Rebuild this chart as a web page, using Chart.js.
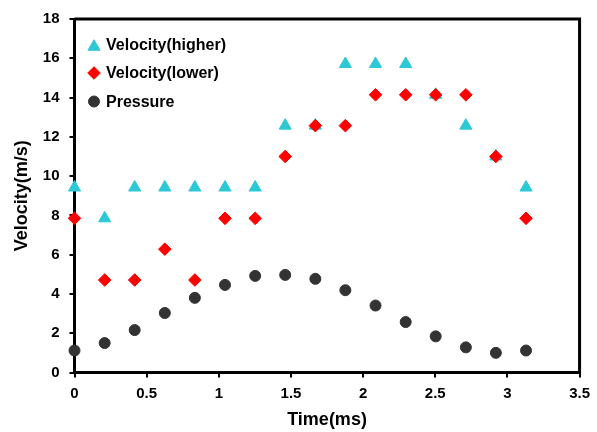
<!DOCTYPE html>
<html>
<head>
<meta charset="utf-8">
<script src="https://cdn.jsdelivr.net/npm/chart.js@4/dist/chart.umd.min.js"></script>
<style>
  html, body { margin: 0; padding: 0; background: #ffffff; }
  #wrap { width: 597px; height: 432px; position: relative; }
</style>
</head>
<body>
<div id="wrap"><canvas id="c" width="597" height="432"></canvas></div>
<script>
// ---- Data ----
const timeMs = [0, 0.209, 0.417, 0.626, 0.834, 1.043, 1.252, 1.460, 1.669, 1.877, 2.086, 2.295, 2.503, 2.712, 2.920, 3.129];
const velocityHigher = [9.42, 7.85, 9.42, 9.42, 9.42, 9.42, 9.42, 12.57, 12.57, 15.71, 15.71, 15.71, 14.14, 12.57, 11.0, 9.42];
const velocityLower  = [7.85, 4.71, 4.71, 6.28, 4.71, 7.85, 7.85, 11.0, 12.57, 12.57, 14.14, 14.14, 14.14, 14.14, 11.0, 7.85];
const pressure       = [1.12, 1.5, 2.16, 3.03, 3.8, 4.46, 4.92, 4.97, 4.77, 4.19, 3.41, 2.57, 1.84, 1.28, 1.0, 1.12];
const seriesNames = ['Velocity(higher)', 'Velocity(lower)', 'Pressure'];
const xTitle = 'Time(ms)';
const yTitle = 'Velocity(m/s)';

const FONT = "'Liberation Sans', Arial, sans-serif";
const cyan = '#2DC8D6';
const red = '#FF0000';
const dark = '#333333';

function pts(ys) { return timeMs.map((t, i) => ({ x: t, y: ys[i] })); }

const framePlugin = {
  id: 'frame',
  afterDatasetsDraw(chart) {
    const { ctx, chartArea: a } = chart;
    ctx.save();
    ctx.strokeStyle = '#000';
    ctx.lineWidth = 3;
    ctx.beginPath();
    ctx.moveTo(a.left, a.top);
    ctx.lineTo(a.right, a.top);
    ctx.lineTo(a.right, a.bottom);
    ctx.stroke();
    ctx.restore();
  }
};

const legendPlugin = {
  id: 'insideLegend',
  afterDraw(chart) {
    const { ctx, chartArea: a } = chart;
    ctx.save();
    const rows = [45, 73, 101.5];
    chart.data.datasets.forEach((ds, i) => {
      const y = rows[i];
      ctx.fillStyle = ds.pointBackgroundColor;
      ctx.strokeStyle = ds.pointBorderColor;
      ctx.lineWidth = 1;
      Chart.helpers.drawPoint(ctx, {
        pointStyle: ds.pointStyle,
        radius: ds.pointRadius,
        rotation: 0,
        borderWidth: 1
      }, 94, y + (ds.pointStyle === 'triangle' ? ds.pointRadius / 4 : 0));
      ctx.fillStyle = '#000';
      ctx.font = "bold 16px " + FONT;
      ctx.textAlign = 'left';
      ctx.textBaseline = 'middle';
      ctx.fillText(ds.label, 106, y + 1);
    });
    ctx.restore();
  }
};

new Chart(document.getElementById('c'), {
  type: 'scatter',
  data: {
    datasets: [
      {
        label: seriesNames[0],
        data: pts(velocityHigher),
        pointStyle: 'triangle',
        pointRadius: 7,
        pointBackgroundColor: cyan,
        pointBorderColor: cyan,
        pointBorderWidth: 1,
        order: 2,
        clip: false
      },
      {
        label: seriesNames[1],
        data: pts(velocityLower),
        pointStyle: 'rectRot',
        pointRadius: 6.3,
        pointBackgroundColor: red,
        pointBorderColor: red,
        pointBorderWidth: 1,
        order: 1,
        clip: false
      },
      {
        label: seriesNames[2],
        data: pts(pressure),
        pointStyle: 'circle',
        pointRadius: 5.5,
        pointBackgroundColor: dark,
        pointBorderColor: dark,
        pointBorderWidth: 1,
        order: 3,
        clip: false
      }
    ]
  },
  options: {
    responsive: false,
    animation: false,
    devicePixelRatio: 1,
    layout: { padding: { left: 0, top: 16.5, right: 15.5, bottom: 0 } },
    plugins: {
      legend: { display: false },
      tooltip: { enabled: false }
    },
    scales: {
      x: {
        type: 'linear',
        min: 0, max: 3.5,
        afterFit(s) { s.height = 59.5; },
        ticks: {
          stepSize: 0.5,
          color: '#000',
          padding: 7,
          font: { family: FONT, size: 15, weight: 'bold' },
          callback: v => String(v)
        },
        grid: { drawOnChartArea: false, drawTicks: true, tickLength: 5, color: '#000', lineWidth: 2 },
        border: { display: true, color: '#000', width: 3 },
        title: {
          display: true, text: xTitle, color: '#000',
          font: { family: FONT, size: 18, weight: 'bold' },
          padding: { top: 0, bottom: 1 }
        }
      },
      y: {
        type: 'linear',
        min: 0, max: 18,
        afterFit(s) { s.width = 74.5; },
        ticks: {
          stepSize: 2,
          color: '#000',
          padding: 10,
          font: { family: FONT, size: 15, weight: 'bold' }
        },
        grid: { drawOnChartArea: false, drawTicks: true, tickLength: 5, color: '#000', lineWidth: 2 },
        border: { display: true, color: '#000', width: 3 },
        title: {
          display: true, text: yTitle, color: '#000',
          font: { family: FONT, size: 18, weight: 'bold' },
          padding: { top: 11, bottom: 0 }
        }
      }
    }
  },
  plugins: [framePlugin, legendPlugin]
});
</script>
</body>
</html>
